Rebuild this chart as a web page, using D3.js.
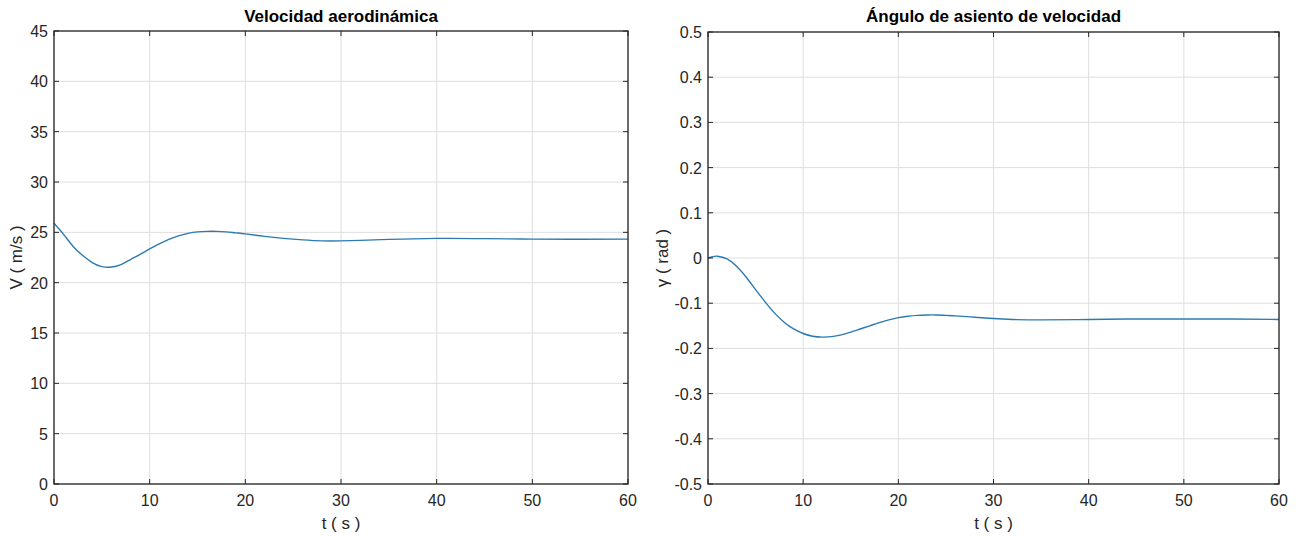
<!DOCTYPE html>
<meta charset="utf-8">
<script src="https://d3js.org/d3.v7.min.js"></script>
<style>
  body { margin: 0; background: #fff; }
  svg text { font-family: "Liberation Sans", Arial, Helvetica, sans-serif; fill: #262626; }
</style>
<div id="chart"></div>
<script>

// time samples (s)
var tV = [0, 1, 2, 3, 4, 5, 6, 7, 8, 9, 10, 11, 12, 13, 14, 15, 16, 17, 18, 19, 20, 22, 24, 26, 28, 30, 32, 35, 40, 45, 50, 55, 60];
// airspeed V (m/s)
var vel = [25.9, 24.8, 23.6, 22.7, 22.0, 21.6, 21.55, 21.8, 22.3, 22.8, 23.35, 23.85, 24.3, 24.65, 24.9, 25.05, 25.1, 25.1, 25.05, 24.95, 24.85, 24.6, 24.4, 24.25, 24.15, 24.15, 24.2, 24.3, 24.4, 24.38, 24.33, 24.32, 24.33];

var tG = [0, 0.5, 1, 2, 3, 4, 5, 6, 7, 8, 9, 10, 11, 12, 13, 14, 15, 16, 17, 18, 19, 20, 21, 22, 23, 24, 25, 26, 28, 30, 32, 35, 40, 45, 50, 55, 60];
// flight path angle gamma (rad)
var gam = [0, 0.003, 0.004, -0.002, -0.018, -0.042, -0.07, -0.097, -0.122, -0.142, -0.157, -0.167, -0.173, -0.175, -0.174, -0.170, -0.164, -0.157, -0.150, -0.143, -0.137, -0.132, -0.129, -0.127, -0.126, -0.126, -0.127, -0.128, -0.131, -0.134, -0.136, -0.137, -0.136, -0.135, -0.135, -0.135, -0.136];

var xTicks = [0, 10, 20, 30, 40, 50, 60];
var vTicks = [0, 5, 10, 15, 20, 25, 30, 35, 40, 45];
var gTicks = [-0.5, -0.4, -0.3, -0.2, -0.1, 0, 0.1, 0.2, 0.3, 0.4, 0.5];

var svg = d3.select("#chart").append("svg")
  .attr("width", 1300)
  .attr("height", 536);

function drawPanel(opt) {
  var x = d3.scaleLinear().domain([0, 60]).range([opt.left, opt.right]);
  var y = d3.scaleLinear().domain(opt.yDomain).range([opt.bottom, opt.top]);
  var g = svg.append("g");

  // grid
  g.selectAll(".gx").data(xTicks).enter().append("line")
    .attr("x1", d => x(d)).attr("x2", d => x(d))
    .attr("y1", opt.top).attr("y2", opt.bottom)
    .attr("stroke", "#dedede").attr("stroke-width", 1);
  g.selectAll(".gy").data(opt.yTicks).enter().append("line")
    .attr("x1", opt.left).attr("x2", opt.right)
    .attr("y1", d => y(d)).attr("y2", d => y(d))
    .attr("stroke", "#dedede").attr("stroke-width", 1);

  // curve
  var line = d3.line()
    .x((d, i) => x(opt.t[i]))
    .y(d => y(d))
    .curve(d3.curveNatural);
  g.append("path")
    .datum(opt.vals)
    .attr("fill", "none")
    .attr("stroke", "#2b7bb2")
    .attr("stroke-width", 1.4)
    .attr("d", line);

  // inner ticks on all four sides
  var tl = 5;
  xTicks.forEach(function(d) {
    g.append("line").attr("x1", x(d)).attr("x2", x(d)).attr("y1", opt.bottom).attr("y2", opt.bottom - tl).attr("stroke", "#262626");
    g.append("line").attr("x1", x(d)).attr("x2", x(d)).attr("y1", opt.top).attr("y2", opt.top + tl).attr("stroke", "#262626");
  });
  opt.yTicks.forEach(function(d) {
    g.append("line").attr("x1", opt.left).attr("x2", opt.left + tl).attr("y1", y(d)).attr("y2", y(d)).attr("stroke", "#262626");
    g.append("line").attr("x1", opt.right).attr("x2", opt.right - tl).attr("y1", y(d)).attr("y2", y(d)).attr("stroke", "#262626");
  });

  // box
  g.append("rect")
    .attr("x", opt.left).attr("y", opt.top)
    .attr("width", opt.right - opt.left).attr("height", opt.bottom - opt.top)
    .attr("fill", "none").attr("stroke", "#262626").attr("stroke-width", 1.3);

  // tick labels
  g.selectAll(".xl").data(xTicks).enter().append("text")
    .attr("x", d => x(d)).attr("y", opt.bottom + 22)
    .attr("text-anchor", "middle")
    .style("font-size", "16px")
    .text(d => d);
  g.selectAll(".yl").data(opt.yTicks).enter().append("text")
    .attr("x", opt.left - 6).attr("y", d => y(d) + 6)
    .attr("text-anchor", "end")
    .style("font-size", "16px")
    .text(opt.fmt);

  // labels
  var cx = (opt.left + opt.right) / 2;
  g.append("text")
    .attr("x", cx).attr("y", 22)
    .attr("text-anchor", "middle")
    .style("font-size", "17px").style("font-weight", "bold")
    .style("fill", "#000")
    .text(opt.title);
  g.append("text")
    .attr("x", cx).attr("y", 529)
    .attr("text-anchor", "middle")
    .style("font-size", "17px")
    .text("t ( s )");
  g.append("text")
    .attr("transform", "translate(" + opt.ylabX + "," + ((opt.top + opt.bottom) / 2) + ") rotate(-90)")
    .attr("text-anchor", "middle")
    .style("font-size", "17px")
    .text(opt.ylab);
}

drawPanel({
  left: 54, right: 628, top: 31, bottom: 484,
  yDomain: [0, 45], yTicks: vTicks,
  t: tV, vals: vel,
  fmt: d => d,
  title: "Velocidad aerodinámica",
  ylab: "V ( m/s )", ylabX: 22
});

drawPanel({
  left: 708, right: 1279, top: 32, bottom: 484,
  yDomain: [-0.5, 0.5], yTicks: gTicks,
  t: tG, vals: gam,
  fmt: d => d === 0 ? "0" : d3.format(".1f")(d).replace("\u2212", "-"),
  title: "Ángulo de asiento de velocidad",
  ylab: "γ ( rad )", ylabX: 668
});

</script>
